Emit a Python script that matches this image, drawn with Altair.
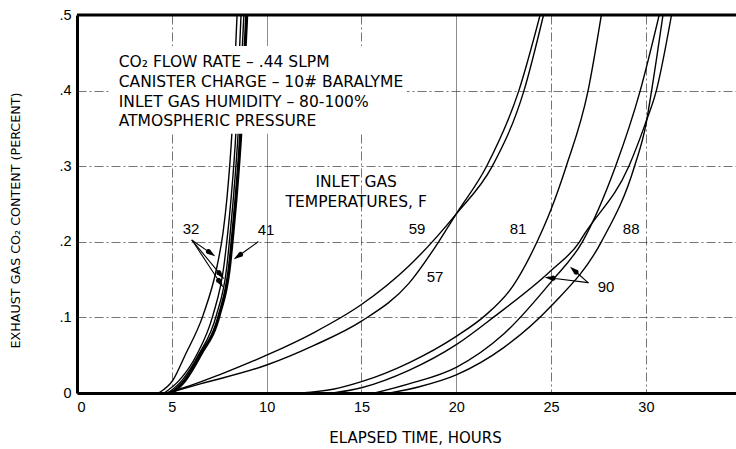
import math
import altair as alt
import pandas as pd

# ---------------- data ----------------
# group 1 : inlet gas 32 F (three runs) and 41 F
x_32a = [4.3, 5.06, 5.7, 6.65, 7.38, 7.7, 7.9, 8.17, 8.44]
y_32a = [0, 0.017, 0.05, 0.103, 0.167, 0.212, 0.256, 0.345, 0.5]
x_32b = [4.6, 5.4, 6.3, 7.17, 7.74, 7.95, 8.12, 8.38, 8.65]
y_32b = [0, 0.017, 0.05, 0.103, 0.167, 0.212, 0.256, 0.345, 0.5]
x_32c = [4.8, 5.55, 6.4, 7.35, 7.9, 8.08, 8.24, 8.5, 8.8]
y_32c = [0, 0.017, 0.05, 0.103, 0.167, 0.212, 0.256, 0.345, 0.5]
x_41 = [5.0, 5.7, 6.5, 7.5, 8.04, 8.22, 8.38, 8.64, 8.95]
y_41 = [0, 0.017, 0.05, 0.103, 0.167, 0.212, 0.256, 0.345, 0.5]
# group 2 : 59 F and 57 F
x_59 = [4.7, 6.0, 7.5, 10.0, 12.5, 15.0, 17.5, 20.0, 21.9, 23.57, 24.6]
y_59 = [0, 0.01, 0.024, 0.05, 0.08, 0.117, 0.168, 0.237, 0.3, 0.4, 0.5]
x_57 = [4.8, 6.5, 10.0, 12.5, 15.0, 17.5, 19.07, 20.0, 21.6, 23.3, 24.42]
y_57 = [0, 0.012, 0.037, 0.063, 0.095, 0.145, 0.2, 0.237, 0.3, 0.4, 0.5]
# group 3 : 81 F, 90 F (two runs), 88 F
x_81 = [11.8, 13.5, 15.0, 17.5, 20.0, 21.5, 23.0, 24.26, 25.0, 25.8, 26.95, 27.65]
y_81 = [0, 0.005, 0.015, 0.04, 0.075, 0.102, 0.142, 0.2, 0.243, 0.3, 0.4, 0.5]
x_90a = [13.5, 15.0, 17.5, 20.0, 22.0, 25.0, 26.5, 26.75, 29.1, 29.95, 30.55, 31.35]
y_90a = [0, 0.007, 0.03, 0.064, 0.101, 0.162, 0.2, 0.21, 0.3, 0.355, 0.4, 0.5]
x_90b = [15.7, 17.5, 20.0, 22.5, 25.0, 26.65, 28.4, 29.7, 30.7]
y_90b = [0, 0.012, 0.034, 0.078, 0.147, 0.2, 0.3, 0.4, 0.5]
x_88 = [16.5, 18.0, 20.0, 22.5, 25.0, 27.65, 29.4, 30.0, 30.3, 30.9]
y_88 = [0, 0.008, 0.024, 0.06, 0.115, 0.2, 0.3, 0.355, 0.4, 0.5]

thin_series = [("32a", x_32a, y_32a), ("32b", x_32b, y_32b), ("32c", x_32c, y_32c),
               ("59", x_59, y_59), ("57", x_57, y_57), ("81", x_81, y_81),
               ("90a", x_90a, y_90a), ("90b", x_90b, y_90b), ("88", x_88, y_88)]
thick_series = [("41", x_41, y_41)]

# curve labels
lab_text = ["32", "41", "59", "57", "81", "88", "90"]
lab_x = [6.01, 9.97, 17.93, 18.88, 23.26, 29.22, 27.9]
lab_y = [0.217, 0.216, 0.217, 0.153, 0.217, 0.217, 0.14]

# legend-like label
temp_text = ["INLET GAS", "TEMPERATURES, F"]
temp_x = [14.72, 14.72]
temp_y = [0.279, 0.253]

# conditions block
cond_text = ["CO\u2082 FLOW RATE \u2013 .44 SLPM",
             "CANISTER CHARGE \u2013 10# BARALYME",
             "INLET GAS HUMIDITY \u2013 80-100%",
             "ATMOSPHERIC PRESSURE"]
cond_x = [2.2, 2.2, 2.2, 2.2]
cond_y = [0.438, 0.411, 0.385, 0.360]
box_x = [1.7, 17.4]
box_y = [0.343, 0.459]

# leader arrows (start -> tip)
arr_x0 = [6.07, 6.07, 6.07, 9.55, 26.95, 26.95]
arr_y0 = [0.202, 0.202, 0.202, 0.200, 0.146, 0.146]
arr_x1 = [7.28, 7.75, 7.70, 8.28, 24.68, 26.0]
arr_y1 = [0.181, 0.151, 0.140, 0.177, 0.153, 0.167]

x_ticks = [0, 5, 10, 15, 20, 25, 30]
y_ticks = [0, 0.1, 0.2, 0.3, 0.4, 0.5]

# ---------------- layout ----------------
X_MAX = 34.75
W, H = 659, 378
FONT = "Liberation Sans, Arial, sans-serif"
WIDE = "DejaVu Sans, Verdana, sans-serif"


def to_df(series):
    rows = []
    for name, xs_, ys_ in series:
        for a, b in zip(xs_, ys_):
            rows.append({"series": name, "t": a, "co2": b})
    return pd.DataFrame(rows)


thin_df = to_df(thin_series)
thick_df = to_df(thick_series)

xs = alt.Scale(domain=[0, X_MAX], nice=False, zero=False)
ys = alt.Scale(domain=[0, 0.5], nice=False)

x_grid_dash = alt.condition("datum.value == 10 || datum.value == 20",
                            alt.value([1, 0]), alt.value([9, 3, 2, 3]))

x_axis = alt.Axis(values=x_ticks, format="d", grid=True, gridColor="#3a3a3a",
                  gridWidth=0.7, gridDash=x_grid_dash, domainColor="black",
                  domainWidth=3, ticks=False, labelPadding=7, labelFont=FONT,
                  labelFontSize=14.5, labelColor="black",
                  title="ELAPSED TIME, HOURS", titleFont=WIDE, titleFontSize=15,
                  titleFontWeight="normal", titleColor="black", titleX=338,
                  titleY=44, titleAlign="center", titleBaseline="middle")
y_axis = alt.Axis(values=y_ticks, grid=True, gridColor="#3a3a3a", gridWidth=0.7,
                  gridDash=[9, 3, 2, 3], domainColor="black", domainWidth=3,
                  ticks=False, labelPadding=6, labelFont=FONT, labelFontSize=14.5,
                  labelColor="black",
                  labelExpr="datum.value == 0 ? '0' : '.' + round(datum.value * 10)",
                  title="EXHAUST GAS CO\u2082 CONTENT (PERCENT)", titleFont=WIDE,
                  titleFontSize=12.7, titleFontWeight="normal", titleColor="black",
                  titleX=-62, titleY=205, titleAngle=270, titleAlign="center",
                  titleBaseline="middle")

X = alt.X("t:Q", scale=xs)
Y = alt.Y("co2:Q", scale=ys)

thin = alt.Chart(thin_df).mark_line(interpolate="monotone", color="black",
                                    strokeWidth=1.4, clip=True).encode(
    x=alt.X("t:Q", scale=xs, axis=x_axis),
    y=alt.Y("co2:Q", scale=ys, axis=y_axis),
    detail="series:N",
)
thick = alt.Chart(thick_df).mark_line(interpolate="monotone", color="black",
                                      strokeWidth=3.2, clip=True).encode(
    x=X, y=Y, detail="series:N")

box_df = pd.DataFrame({"t": [box_x[0]], "t2": [box_x[1]], "co2": [box_y[0]], "co2b": [box_y[1]]})
box = alt.Chart(box_df).mark_rect(color="white").encode(
    x=X, x2="t2:Q", y=Y, y2="co2b:Q")

top_rule = alt.Chart(pd.DataFrame({"co2": [0.5]})).mark_rule(
    color="black", strokeWidth=3).encode(y=Y)

lab_df = pd.DataFrame({"text": lab_text, "t": lab_x, "co2": lab_y})
labels = alt.Chart(lab_df).mark_text(font=FONT, fontSize=15, color="black",
                                     baseline="middle", align="center").encode(
    x=X, y=Y, text="text:N")

temp_df = pd.DataFrame({"text": temp_text, "t": temp_x, "co2": temp_y})
temp = alt.Chart(temp_df).mark_text(font=WIDE, fontSize=15.5, color="black",
                                    baseline="middle", align="center").encode(
    x=X, y=Y, text="text:N")

cond_df = pd.DataFrame({"text": cond_text, "t": cond_x, "co2": cond_y})
cond = alt.Chart(cond_df).mark_text(font=WIDE, fontSize=15.5, color="black",
                                    baseline="middle", align="left").encode(
    x=X, y=Y, text="text:N")

# arrows drawn as tapered trails: shaft of constant width, then a head
sx = W / X_MAX
sy = H / 0.5
HEAD = 8.0
arrow_rows = []
for i, (a0, b0, a1, b1) in enumerate(zip(arr_x0, arr_y0, arr_x1, arr_y1)):
    dxp = (a1 - a0) * sx
    dyp = -(b1 - b0) * sy
    ln = math.hypot(dxp, dyp)
    base_t = a1 - HEAD * dxp / ln / sx
    base_c = b1 + HEAD * dyp / ln / sy
    arrow_rows += [
        {"arrow": i, "k": 0, "t": a0, "co2": b0, "w": 1.1},
        {"arrow": i, "k": 1, "t": base_t, "co2": base_c, "w": 1.1},
        {"arrow": i, "k": 2, "t": base_t, "co2": base_c, "w": 5.0},
        {"arrow": i, "k": 3, "t": a1, "co2": b1, "w": 0.2},
    ]
arrow_df = pd.DataFrame(arrow_rows)
arrows = alt.Chart(arrow_df).mark_trail(color="black").encode(
    x=X, y=Y, size=alt.Size("w:Q", scale=None, legend=None),
    detail="arrow:N", order="k:O")

chart = alt.layer(thin, thick, box, top_rule, arrows, labels, temp, cond).properties(
    width=W, height=H,
    autosize=alt.AutoSizeParams(type="none"),
    padding={"left": 77, "top": 15, "right": 0, "bottom": 56},
    background="white",
).configure_view(stroke=None)

chart.save("out.html", embed_options={"renderer": "svg", "actions": False})
